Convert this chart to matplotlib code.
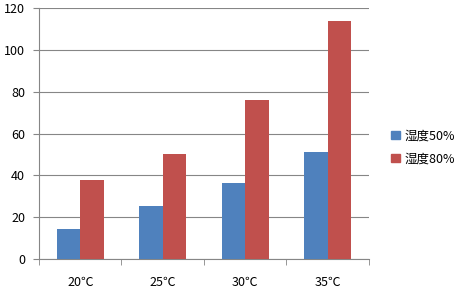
import matplotlib.pyplot as plt
import numpy as np
from matplotlib.patches import Patch

plt.rcParams["font.family"] = ["Noto Sans CJK SC", "DejaVu Sans"]

categories = ["20℃", "25℃", "30℃", "35℃"]
humidity_50 = [14.5, 25.5, 36.5, 51]
humidity_80 = [38, 50, 76, 114]
series_names = ["湿度50%", "湿度80%"]
colors = ["#4F81BD", "#C0504D"]

fig = plt.figure(figsize=(4.67, 3.01), dpi=100)
ax = fig.add_axes([0.0835, 0.1395, 0.7065, 0.8335])

x = np.arange(len(categories))
w = 0.285
ax.bar(x - w / 2, humidity_50, w, color=colors[0], zorder=3)
ax.bar(x + w / 2, humidity_80, w, color=colors[1], zorder=3)

ax.set_xlim(-0.5, len(categories) - 0.5)
ax.set_ylim(0, 120)
ax.set_yticks(range(0, 121, 20))
ax.yaxis.grid(True, color="#868686", linewidth=0.8, zorder=0)

ax.set_xticks(x)
ax.set_xticklabels(categories, fontsize=9)
ax.set_xticks(np.arange(-0.5, len(categories)), minor=True)
ax.tick_params(axis="x", which="major", length=0, pad=12)
ax.tick_params(axis="x", which="minor", length=4, color="#868686", direction="out")
ax.tick_params(axis="y", length=4, color="#868686", labelsize=9, pad=6)

for s in ["top", "right"]:
    ax.spines[s].set_visible(False)
for s in ["left", "bottom"]:
    ax.spines[s].set_color("#868686")
    ax.spines[s].set_linewidth(0.8)

handles = [Patch(color=c) for c in colors]
fig.legend(handles, series_names, loc="center left", bbox_to_anchor=(0.813, 0.51),
           frameon=False, fontsize=9, handlelength=0.7, handleheight=0.7,
           handletextpad=0.35, labelspacing=0.8)

fig.savefig("out.png", dpi=100)
